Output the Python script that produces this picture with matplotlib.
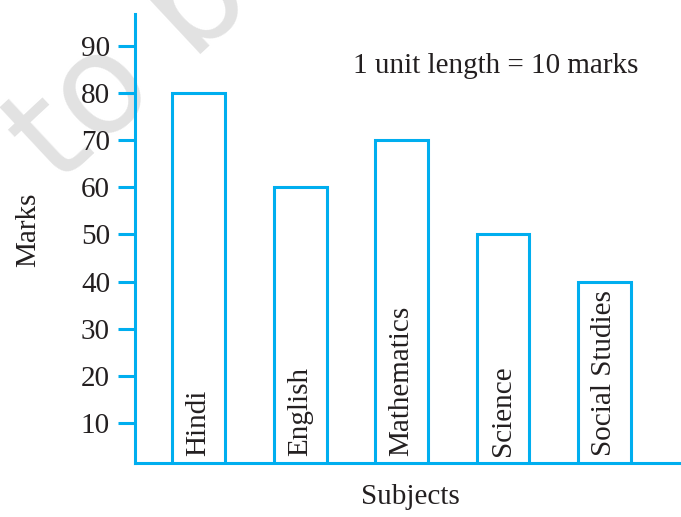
import matplotlib.pyplot as plt
import numpy as np

# bar chart of marks per subject
subjects = ['Hindi', 'English', 'Mathematics', 'Science', 'Social Studies']
marks = [80, 60, 70, 50, 40]
yticks = [10, 20, 30, 40, 50, 60, 70, 80, 90]

cyan = '#00aeef'
ink = '#231f20'
plt.rcParams['font.family'] = 'Liberation Serif'

fig = plt.figure(figsize=(6.81, 5.17), dpi=100)

# faint watermark behind the chart
fig.text(58/681, 1-188/517, 'to be', fontsize=100, color='#e2e2e2',
         family='DejaVu Sans', rotation=43, ha='left', va='baseline', zorder=-5,
         rotation_mode='anchor')

ax = fig.add_axes([135/681, (517-463)/517, 1-135/681, (463-14)/517])
ax.patch.set_alpha(0)

x = np.arange(len(subjects))
ax.bar(x, marks, width=0.522, facecolor='white', edgecolor=cyan, linewidth=2.2, zorder=2)

for xi, name in zip(x, subjects):
    ax.text(xi, 3.0, name, rotation=90, ha='center', va='bottom', fontsize=21, color=ink, zorder=3)

ax.set_xlim(-0.626, 4.754)
ax.set_ylim(1.5, 96.8)

for s in ['top', 'right']:
    ax.spines[s].set_visible(False)
for s in ['left', 'bottom']:
    ax.spines[s].set_color(cyan)
    ax.spines[s].set_linewidth(2.2)

ax.set_xticks([])
ax.set_yticks(yticks)
ax.tick_params(axis='y', length=12, width=2.2, color=cyan, labelsize=21, labelcolor=ink, pad=6)

ax.set_ylabel('Marks', fontsize=21, color=ink, va='center', ha='center')
ax.yaxis.set_label_coords(-0.196, 0.519)
ax.set_xlabel('Subjects', fontsize=21, color=ink, va='center', ha='center')
ax.xaxis.set_label_coords(0.504, -0.0757)

ax.text(2.93, 85.8, '1 unit length = 10 marks', fontsize=21, color=ink, ha='center', va='center')

plt.savefig('out.png', dpi=100)
plt.close(fig)
